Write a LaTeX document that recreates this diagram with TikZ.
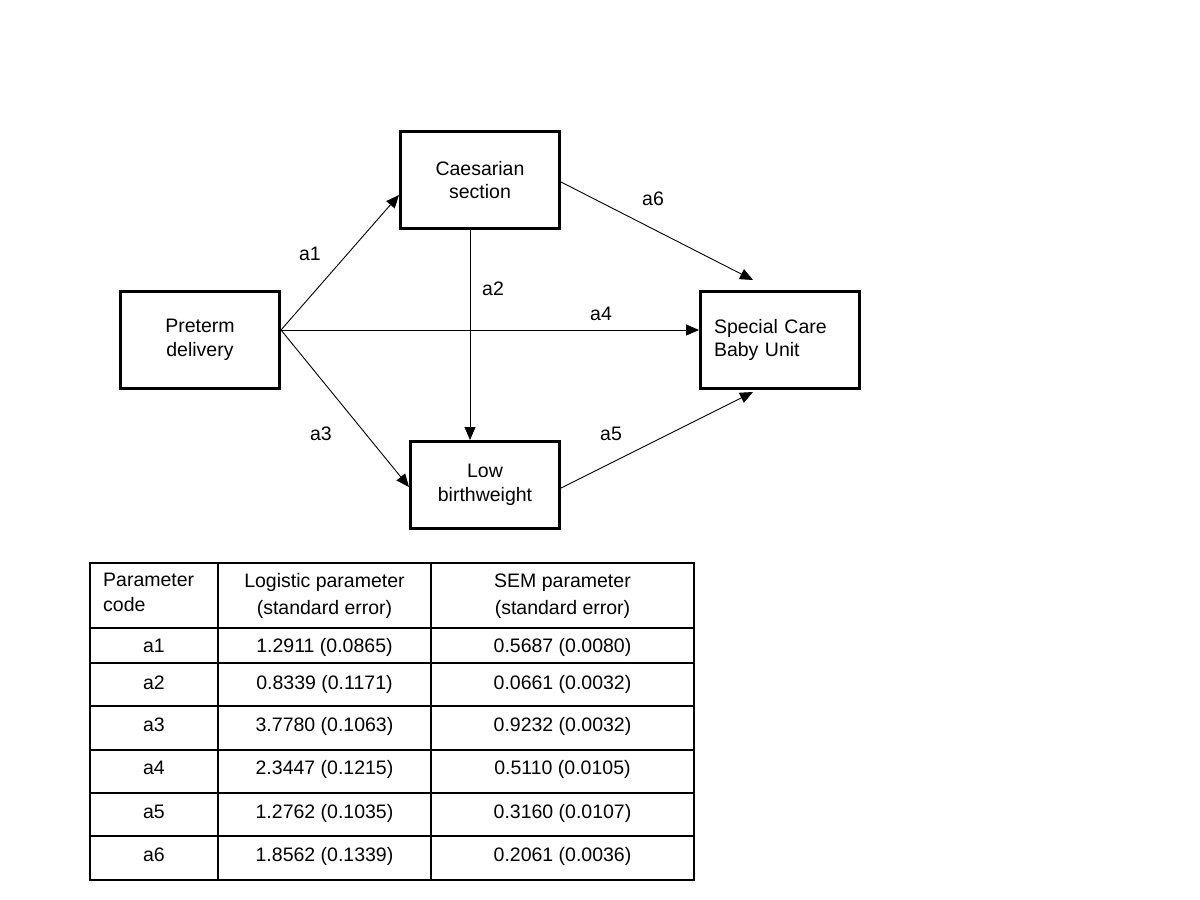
\documentclass[tikz,border=0pt]{standalone}
\usepackage{fontspec}
\setmainfont{Liberation Sans}
\usetikzlibrary{arrows.meta}
\begin{document}
\begin{tikzpicture}[x=1pt,y=-1pt,
  txt/.style={font=\fontsize{19.5}{23.5}\selectfont},
  box/.style={txt, draw, line width=3pt, minimum width=159pt, minimum height=97pt, align=center, inner sep=0pt},
  lbl/.style={txt, anchor=base, inner sep=0pt},
  conn/.style={line width=0.9pt, -{Triangle[length=13pt,width=11pt]}},
  cell/.style={font=\fontsize{19.5}{25}\selectfont, anchor=base, inner sep=0pt},
  tline/.style={line width=1.3pt}]
\fill[white] (0,0) rectangle (1200,900);
\useasboundingbox (0,0) rectangle (1200,900);

% boxes
\node[box] (pre) at (200,340) {Preterm\\delivery};
\node[box] (cs) at (480,180) {Caesarian\\section};
\node[box, minimum width=149pt, minimum height=87pt] (lbw) at (485,485) {Low\\birthweight};
\node[box, align=left, text width=132pt] (scbu) at (780,340) {Special Care\\Baby Unit};

% connectors
\draw[conn] ([yshift=10pt]pre.east) -- ([yshift=-15pt]cs.west);
\draw[conn] ([yshift=10pt]pre.east) -- ([yshift=-2pt]lbw.west);
\draw[conn] ([yshift=10pt]pre.east) -- ([yshift=10pt]scbu.west);
\draw[conn] ([xshift=-10pt]cs.south) -- ([xshift=-10pt]cs.south |- lbw.north);
\draw[conn] ([yshift=-2pt]cs.east) -- ([xshift=-27pt,yshift=10pt]scbu.north);
\draw[conn] ([yshift=-3pt]lbw.east) -- ([xshift=-27pt,yshift=-2pt]scbu.south);

% labels
\node[lbl] (la1) at (310,260) {a1};
\node[lbl] (la2) at (493,295) {a2};
\node[lbl] (la3) at (321,440) {a3};
\node[lbl] (la4) at (601,320) {a4};
\node[lbl] (la5) at (611,440) {a5};
\node[lbl] (la6) at (653,205) {a6};

% table
\draw[tline] (90,563) rectangle (694,880);
\draw[tline] (218,563) -- (218,880);
\draw[tline] (431,563) -- (431,880);
\foreach \yy in {628,663,706,750,793,836} \draw[tline] (90,\yy) -- (694,\yy);

\node[cell, anchor=base west, align=left] (h1) at (103,611) {Parameter\\code};
\node[cell, align=center, font=\fontsize{19.5}{27}\selectfont] (h2) at (324.5,614) {Logistic parameter\\(standard error)};
\node[cell, align=center, font=\fontsize{19.5}{27}\selectfont] (h3) at (562.5,614) {SEM parameter\\(standard error)};

\node[cell] (c11) at (154,652) {a1};
\node[cell] (c12) at (324.5,652) {1.2911 (0.0865)};
\node[cell] (c13) at (562.5,652) {0.5687 (0.0080)};
\node[cell] (c21) at (154,689) {a2};
\node[cell] (c22) at (324.5,689) {0.8339 (0.1171)};
\node[cell] (c23) at (562.5,689) {0.0661 (0.0032)};
\node[cell] (c31) at (154,731.5) {a3};
\node[cell] (c32) at (324.5,731.5) {3.7780 (0.1063)};
\node[cell] (c33) at (562.5,731.5) {0.9232 (0.0032)};
\node[cell] (c41) at (154,774) {a4};
\node[cell] (c42) at (324.5,774) {2.3447 (0.1215)};
\node[cell] (c43) at (562.5,774) {0.5110 (0.0105)};
\node[cell] (c51) at (154,818) {a5};
\node[cell] (c52) at (324.5,818) {1.2762 (0.1035)};
\node[cell] (c53) at (562.5,818) {0.3160 (0.0107)};
\node[cell] (c61) at (154,861.5) {a6};
\node[cell] (c62) at (324.5,861.5) {1.8562 (0.1339)};
\node[cell] (c63) at (562.5,861.5) {0.2061 (0.0036)};
\end{tikzpicture}
\end{document}
